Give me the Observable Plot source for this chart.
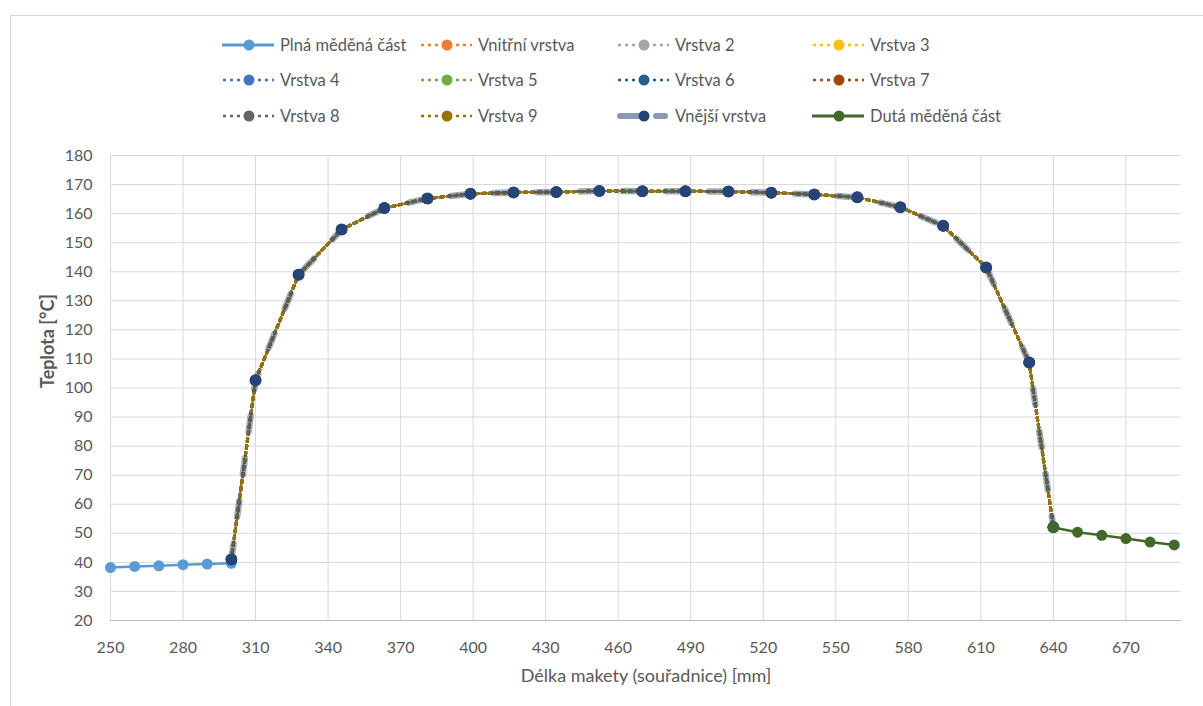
<!DOCTYPE html>
<html>
<head>
<meta charset="utf-8">
<script src="https://cdn.jsdelivr.net/npm/d3@7"></script>
<script src="https://cdn.jsdelivr.net/npm/@observablehq/plot@0.6"></script>
<style>
  html, body { margin: 0; padding: 0; background: #fff; }
  body { width: 1203px; height: 706px; position: relative; overflow: hidden; font-family: Lato, "Open Sans", sans-serif; color: #595959; }
  #frame { position: absolute; left: 10px; top: 15px; width: 1300px; height: 800px; border-left: 1px solid #d9d9d9; border-top: 1px solid #d9d9d9; z-index: 5; pointer-events: none; }
  #legend { position: absolute; left: 0; top: 0; width: 1203px; height: 140px; }
  .item { position: absolute; display: flex; align-items: center; height: 24px; font-size: 16.5px; color: #595959; white-space: nowrap; }
  .item svg { margin-right: 5px; }
  #chart { position: absolute; left: 0; top: 140px; }
</style>
</head>
<body>
<div id="legend"></div>
<div id="chart"></div>
<div id="frame"></div>
<script>
// ---- data ----
const seriesNames = ["Plná měděná část", "Vnitřní vrstva", "Vrstva 2", "Vrstva 3", "Vrstva 4", "Vrstva 5", "Vrstva 6", "Vrstva 7", "Vrstva 8", "Vrstva 9", "Vnější vrstva", "Dutá měděná část"];
const seriesColors = ["#5b9bd5", "#ed7d31", "#a5a5a5", "#ffc000", "#4472c4", "#70ad47", "#255e91", "#9e480e", "#636363", "#997300", "#264478", "#43682b"];

// solid copper part
const plnaX = [250, 260, 270, 280, 290, 300];
const plnaT = [38.2, 38.6, 38.8, 39.2, 39.4, 39.7];

// insulation layers (all eleven layers coincide in the picture)
const layerX = [300, 310, 327.8, 345.6, 363.3, 381.1, 398.9, 416.7, 434.4, 452.2, 470, 487.8, 505.6, 523.3, 541.1, 558.9, 576.7, 594.4, 612.2, 630, 640];
const layerT = [41.0, 102.7, 139.0, 154.5, 161.9, 165.2, 166.8, 167.3, 167.4, 167.8, 167.7, 167.7, 167.6, 167.2, 166.6, 165.6, 162.2, 155.8, 141.5, 108.8, 52.1];

// hollow copper part
const dutaX = [640, 650, 660, 670, 680, 690];
const dutaT = [52.0, 50.4, 49.3, 48.2, 47.0, 46.0];

const xTicks = [250, 280, 310, 340, 370, 400, 430, 460, 490, 520, 550, 580, 610, 640, 670];
const yTicks = [20, 30, 40, 50, 60, 70, 80, 90, 100, 110, 120, 130, 140, 150, 160, 170, 180];

// ---- build tables ----
const toRows = (xs, ts) => xs.map((x, i) => ({x, t: ts[i]}));
const plnaRows = toRows(plnaX, plnaT);
const layerRows = toRows(layerX, layerT);
const dutaRows = toRows(dutaX, dutaT);

const DOT = "3,4";
const marks = [
  Plot.gridY(yTicks, {stroke: "#d9d9d9", strokeOpacity: 1, strokeWidth: 1}),
  Plot.gridX(xTicks, {stroke: "#d9d9d9", strokeOpacity: 1, strokeWidth: 1}),
  Plot.ruleY([20], {stroke: "#bfbfbf"}),
  Plot.axisX(xTicks, {tickSize: 0, tickPadding: 21, fontSize: 16, fill: "#595959", label: null}),
  Plot.axisY(yTicks, {tickSize: 0, tickPadding: 18, fontSize: 16, fill: "#595959", label: null}),
  // Plná měděná část
  Plot.line(plnaRows, {x: "x", y: "t", stroke: seriesColors[0], strokeWidth: 2.5}),
  Plot.dot(plnaRows, {x: "x", y: "t", r: 5.5, fill: seriesColors[0], stroke: null})
];
// layers 1..9 (dotted)
for (let k = 1; k <= 9; k++) {
  marks.push(Plot.line(layerRows, {x: "x", y: "t", stroke: seriesColors[k], strokeWidth: 3, strokeDasharray: DOT}));
  marks.push(Plot.dot(layerRows, {x: "x", y: "t", r: 5.5, fill: seriesColors[k], stroke: null}));
}
// Vnější vrstva (thick translucent long dash)
marks.push(Plot.line(layerRows, {x: "x", y: "t", stroke: seriesColors[10], strokeOpacity: 0.45, strokeWidth: 6.5, strokeDasharray: "16,27", strokeLinecap: "round"}));
marks.push(Plot.dot(layerRows, {x: "x", y: "t", r: 6, fill: seriesColors[10], stroke: null}));
// Dutá měděná část
marks.push(Plot.line(dutaRows, {x: "x", y: "t", stroke: seriesColors[11], strokeWidth: 2.5}));
marks.push(Plot.dot(dutaRows, {x: "x", y: "t", r: 5.5, fill: seriesColors[11], stroke: null}));
// axis titles
marks.push(Plot.text(["Teplota [°C]"], {frameAnchor: "left", dx: -62, rotate: -90, fontSize: 18, fontWeight: "bold", fill: "#595959"}));
marks.push(Plot.text(["Délka makety (souřadnice) [mm]"], {frameAnchor: "bottom", dy: 61, dx: 0, fontSize: 18, fill: "#595959"}));

const chart = Plot.plot({
  width: 1203,
  height: 566,
  marginTop: 15,
  marginBottom: 86,
  marginLeft: 110,
  marginRight: 22,
  style: {fontFamily: "Lato, 'Open Sans', sans-serif", background: "transparent", overflow: "visible"},
  x: {domain: [250, 693]},
  y: {domain: [20, 180]},
  marks
});
document.getElementById("chart").appendChild(chart);

// ---- legend ----
const legend = document.getElementById("legend");
const colX = [222, 420, 617, 812];
const rowY = [45, 80, 116];
seriesNames.forEach((name, i) => {
  const col = i % 4, row = Math.floor(i / 4);
  const item = document.createElement("div");
  item.className = "item";
  item.style.left = colX[col] + "px";
  item.style.top = (rowY[row] - 12) + "px";
  const c = seriesColors[i];
  let line;
  if (i === 0 || i === 11) {
    line = `<line x1="0" y1="12" x2="52" y2="12" stroke="${c}" stroke-width="3"/>`;
  } else if (i === 10) {
    line = `<line x1="3" y1="12" x2="22" y2="12" stroke="${c}" stroke-opacity="0.55" stroke-width="6" stroke-linecap="round"/>` +
           `<line x1="39" y1="12" x2="48" y2="12" stroke="${c}" stroke-opacity="0.55" stroke-width="6" stroke-linecap="round"/>`;
  } else {
    line = `<line x1="1" y1="12" x2="52" y2="12" stroke="${c}" stroke-width="2.5" stroke-dasharray="${DOT}"/>`;
  }
  item.innerHTML = `<svg width="53" height="24">${line}<circle cx="27" cy="12" r="5.5" fill="${c}"/></svg><span>${name}</span>`;
  legend.appendChild(item);
});
</script>
</body>
</html>
